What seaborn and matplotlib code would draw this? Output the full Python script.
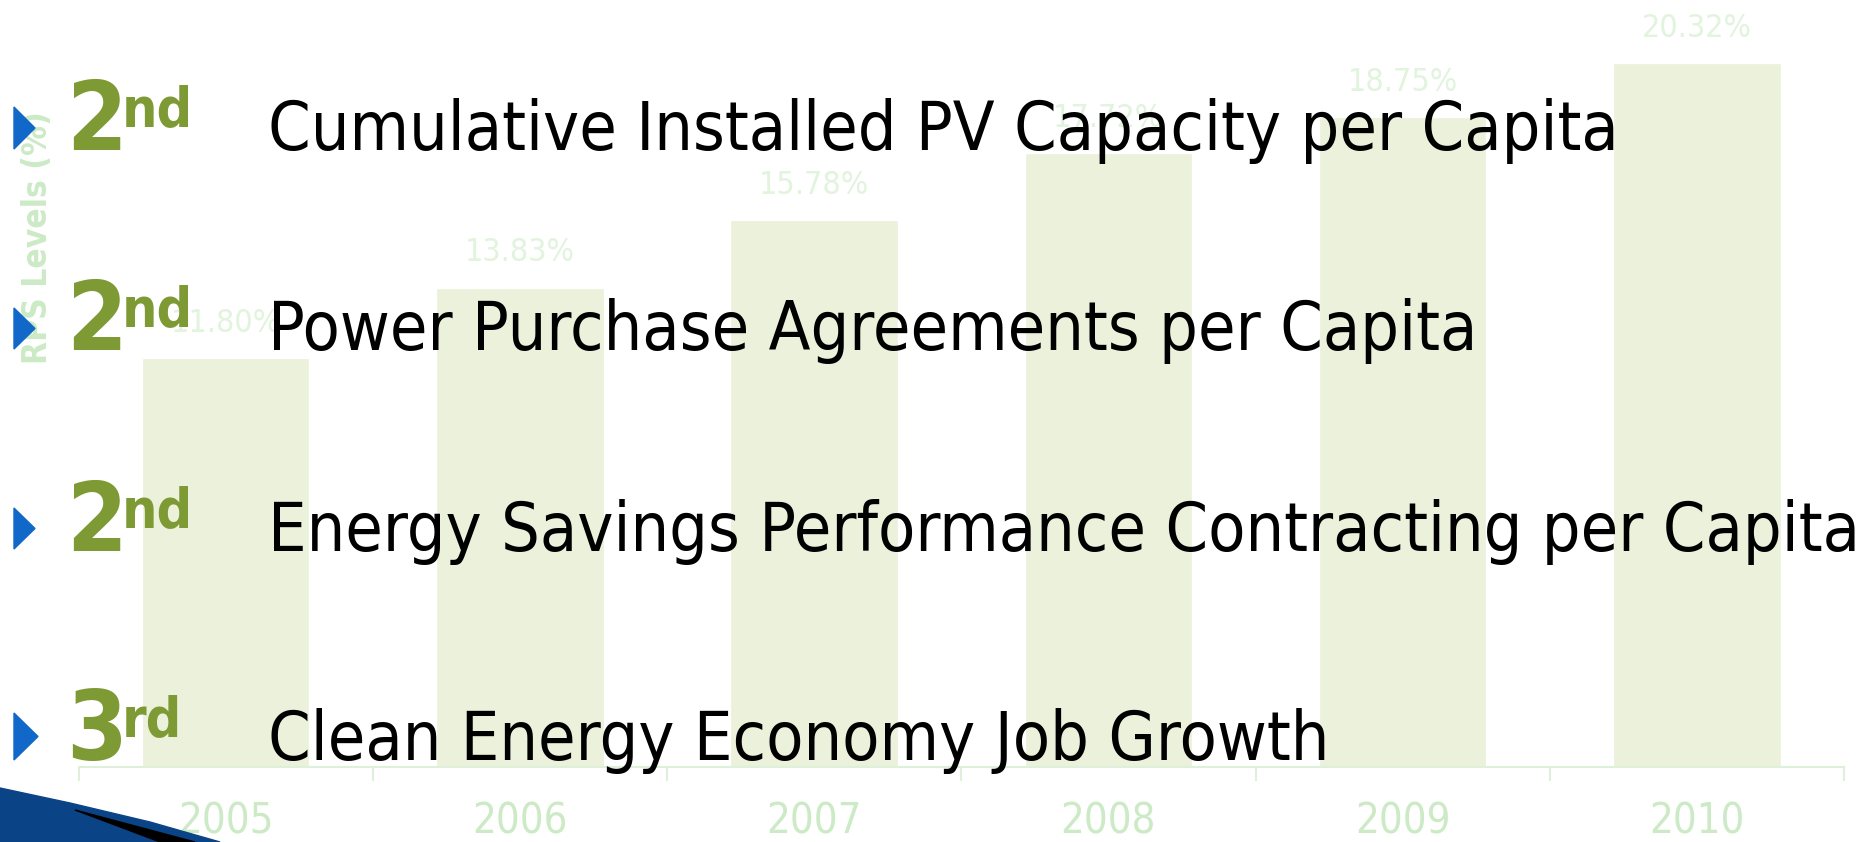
import matplotlib
matplotlib.use("Agg")
import matplotlib.pyplot as plt
from matplotlib.patches import Polygon
import seaborn as sns

# ---------------------------------------------------
# Data
# ---------------------------------------------------
years = ["2005", "2006", "2007", "2008", "2009", "2010"]
rps_levels = [11.80, 13.83, 15.78, 17.72, 18.75, 20.32]

rank_numbers = ["2", "2", "2", "3"]
rank_suffixes = ["nd", "nd", "nd", "rd"]
metrics = [
    "Cumulative Installed PV Capacity per Capita",
    "Power Purchase Agreements per Capita",
    "Energy Savings Performance Contracting per Capita",
    "Clean Energy Economy Job Growth",
]

# ---------------------------------------------------
# Style
# ---------------------------------------------------
sns.set_theme(style="white")
plt.rcParams["font.family"] = ["DejaVu Sans"]
plt.rcParams["font.stretch"] = "condensed"

W, H = 1864, 842
BAR = "#ebf1da"
LIGHT = "#cdeac6"
FAINT = "#e2f3de"
GREEN = "#7e9a34"
BLUE = "#1168c8"


def fx(px):
    return px / W


def fy(py):
    return 1 - py / H


fig = plt.figure(figsize=(W / 100, H / 100), dpi=100)
ax = fig.add_axes([fx(78.5), fy(767), fx(1844) - fx(78.5), fy(0) - fy(767)])

sns.barplot(x=years, y=rps_levels, color=BAR, saturation=1, width=0.57, ax=ax)
ax.set_xlim(-0.5, 5.5)
ax.set_ylim(0, 22.14)

ax.bar_label(ax.containers[0], labels=[f"{v:.2f}%" for v in rps_levels],
             padding=14, color=FAINT, fontsize=23)

for s in ["left", "top", "right"]:
    ax.spines[s].set_visible(False)
ax.spines["bottom"].set_color("#dff0da")
ax.spines["bottom"].set_linewidth(1.5)
ax.set_yticks([])
ax.set_xticks(range(len(years)))
ax.set_xticks([i - 0.5 for i in range(len(years) + 1)], minor=True)
ax.tick_params(axis="x", which="major", length=0, pad=24, labelsize=30,
               labelcolor=LIGHT)
ax.tick_params(axis="x", which="minor", bottom=True, length=10, width=1.5,
               color="#dff0da")
ax.set_xlabel("")
ax.set_ylabel("RPS Levels (%)", color=LIGHT, fontsize=24, fontweight="semibold",
              va="center")
ax.yaxis.set_label_coords(-0.0235, 0.69)

# ---------------------------------------------------
# Ranking bullets over the chart
# ---------------------------------------------------
baselines = [150, 350, 551, 760]
tri_boxes = [(14, 35, 107, 149), (14, 35, 308, 349), (14, 35, 508, 549),
             (14, 38, 713, 760)]
for i, (num, suf, text) in enumerate(zip(rank_numbers, rank_suffixes, metrics)):
    b = baselines[i]
    x0, x1, y0, y1 = tri_boxes[i]
    tri = Polygon([(fx(x0), fy(y0)), (fx(x1), fy((y0 + y1) / 2)), (fx(x0), fy(y1))],
                  closed=True, transform=fig.transFigure, color=BLUE, zorder=5)
    fig.add_artist(tri)
    fig.text(fx(66), fy(b), num, color=GREEN, fontsize=70, fontweight="bold",
             va="baseline", ha="left", zorder=6)
    fig.text(fx(122), fy(b - 24), suf, color=GREEN, fontsize=40, fontweight="bold",
             va="baseline", ha="left", zorder=6)
    fig.text(fx(268), fy(b), text, color="black", fontsize=49,
             va="baseline", ha="left", zorder=6)

# ---------------------------------------------------
# Template swoosh, bottom left
# ---------------------------------------------------
swoosh = Polygon([(fx(0), fy(788)), (fx(70), fy(803)), (fx(150), fy(822)),
                  (fx(220), fy(842)), (fx(0), fy(842))],
                 closed=True, transform=fig.transFigure, color="#0b4486", zorder=4)
fig.add_artist(swoosh)
edge = Polygon([(fx(75), fy(810)), (fx(195), fy(842)), (fx(160), fy(842))],
               closed=True, transform=fig.transFigure, color="black", zorder=4)
fig.add_artist(edge)

fig.savefig("out.png", dpi=100, facecolor="white")
